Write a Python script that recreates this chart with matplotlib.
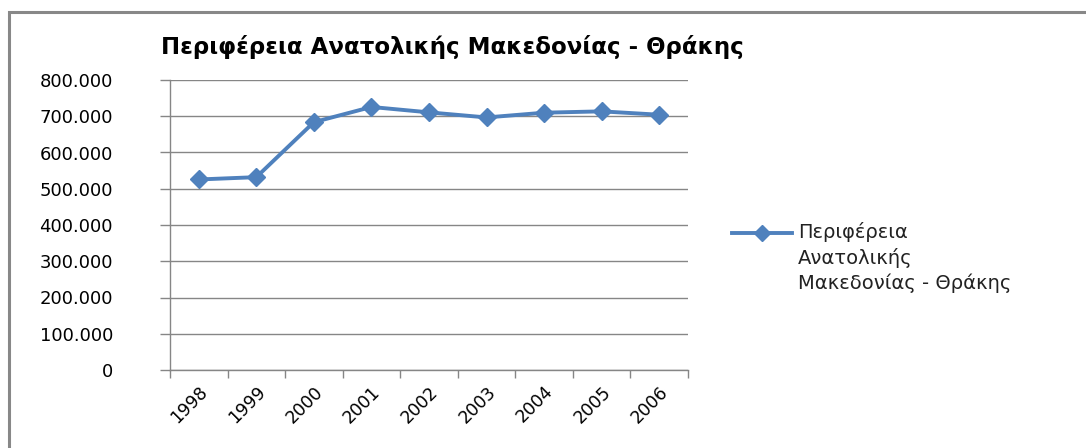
import numpy as np
import matplotlib
matplotlib.use('Agg')
import matplotlib.pyplot as plt
from matplotlib.ticker import FuncFormatter, FixedLocator
from matplotlib.lines import Line2D

# ── DATA ────────────────────────────────────────────
years = ['1998', '1999', '2000', '2001', '2002', '2003', '2004', '2005', '2006']
values = [525600, 532000, 683700, 725600, 710700, 696700, 709800, 713500, 704200]
title = 'Περιφέρεια Ανατολικής Μακεδονίας - Θράκης'
legend_label = 'Περιφέρεια\nΑνατολικής\nΜακεδονίας - Θράκης'

blue = '#4F81BD'
grid_gray = '#868686'

plt.rcParams['font.family'] = ['DejaVu Sans']

fig = plt.figure(figsize=(10.86, 4.48), dpi=100)
fig.patch.set_facecolor('white')

# outer chart border (only left and top edges are visible in the crop)
bx, by = 8.5 / 1086, 1 - 12 / 448
fig.lines.append(Line2D([bx, bx, 1.0], [0.0, by, by], transform=fig.transFigure,
                        color='#888888', linewidth=2.2, solid_joinstyle='miter'))

ax = fig.add_axes([170 / 1086, 1 - 370 / 448, 518 / 1086, 290 / 448])

x = np.arange(len(years))
ax.plot(x, values, color=blue, linewidth=2.8, marker='D', markersize=9,
        markeredgecolor=blue, markerfacecolor=blue)

ax.set_xlim(-0.5, len(years) - 0.5)
ax.set_ylim(0, 800000)
ax.set_yticks(np.arange(0, 800001, 100000))
ax.yaxis.set_major_formatter(
    FuncFormatter(lambda v, p: f'{int(v):,}'.replace(',', '.')))

ax.set_xticks(x)
ax.set_xticklabels(years, rotation=45, ha='right', rotation_mode='anchor',
                   fontsize=12.5)
ax.xaxis.set_minor_locator(FixedLocator(np.arange(-0.5, len(years), 1.0)))
ax.tick_params(axis='x', which='major', length=0, pad=9)
ax.tick_params(axis='x', which='minor', length=6, color=grid_gray, width=1)
ax.tick_params(axis='y', length=7, color=grid_gray, width=1, labelsize=13,
               pad=34)
for lab in ax.get_yticklabels():
    lab.set_horizontalalignment('right')

ax.grid(axis='y', color=grid_gray, linewidth=1)
ax.set_axisbelow(True)
for s in ['top', 'right']:
    ax.spines[s].set_visible(False)
for s in ['left', 'bottom']:
    ax.spines[s].set_color(grid_gray)
    ax.spines[s].set_linewidth(1)

fig.text(452 / 1086, 1 - 47 / 448, title, fontsize=16.5, fontweight='bold',
         ha='center', va='center')

# legend drawn by hand so the handle sits on the first line
fig.lines.append(Line2D([732 / 1086, 792 / 1086], [1 - 233 / 448, 1 - 233 / 448],
                        transform=fig.transFigure, color=blue, linewidth=2.8))
fig.lines.append(Line2D([762 / 1086], [1 - 233 / 448], transform=fig.transFigure,
                        color=blue, marker='D', markersize=8))
fig.text(798 / 1086, 1 - 222 / 448, legend_label, fontsize=14, ha='left',
         va='top', linespacing=1.35, color='#222222')

fig.savefig('out.png', dpi=100)
